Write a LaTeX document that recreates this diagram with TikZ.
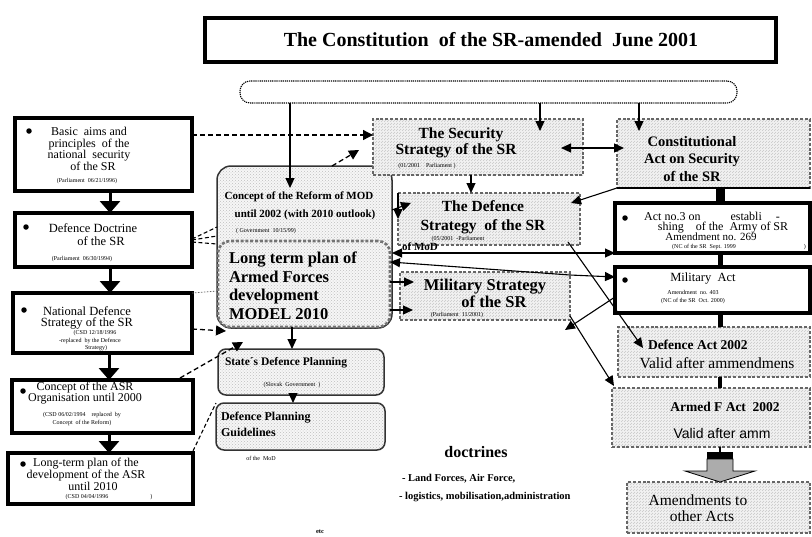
\documentclass[tikz,border=0pt]{standalone}
\usepackage{fontspec}
\setmainfont{Liberation Serif}
\newfontfamily\arialfont{Liberation Sans}
\usetikzlibrary{arrows.meta,patterns,calc}
\newcommand\fsz[2]{\fontsize{#1}{#2}\selectfont}
% box given by its corners: name, style, x1, y1, x2, y2
\newcommand\cbox[6]{\node[#2, minimum width={#5-#3}, minimum height={#6-#4}] (#1) at ({(#3+#5)/2},{(#4+#6)/2}) {};}

\begin{document}
\begin{tikzpicture}[x=1pt,y=-1pt,
  every node/.style={inner sep=0pt, outer sep=0pt},
  titlebox/.style={draw, line width=4pt, rectangle},
  topbox/.style={draw, line width=1.1pt, dash pattern=on 1.2pt off 0.9pt, rounded corners=10pt},
  lawbox/.style={draw, line width=4.5pt, fill=white},
  hatchbox/.style={draw=black!60, line width=2.6pt, dash pattern=on 3pt off 1.8pt,
    preaction={fill=gray!10}, pattern=north east lines, pattern color=black!22},
  dotbox/.style={draw=black!80, line width=1.5pt, rounded corners=#1,
    preaction={fill=gray!7}, pattern=crosshatch dots, pattern color=black!25},
  modelbox/.style={draw=black!55, line width=2.6pt, dash pattern=on 3pt off 1.8pt, rounded corners=12pt,
    preaction={fill=gray!7}, pattern=crosshatch dots, pattern color=black!25},
  bullet/.style={circle, fill=black, minimum size=5.5pt},
  txt/.style={font=\fsz{#1}{#1}, align=center},
  btxt/.style={font=\fsz{#1}{#1}\bfseries, align=center},
  small/.style={font=\fsz{6}{7.5}, align=center},
  tarr/.style={line width=1.1pt, -{Triangle[length=10pt,width=9pt]}},
  tarr2/.style={line width=1.1pt, {Triangle[length=10pt,width=9pt]}-{Triangle[length=10pt,width=9pt]}},
  darr/.style={line width=1.3pt, dash pattern=on 5pt off 3pt, -{Triangle[length=10pt,width=10pt]}},
  dline/.style={line width=1.1pt, dash pattern=on 4pt off 2.5pt},
  bigarr/.style={line width=3pt, -{Triangle[length=12pt,width=20pt]}},
  spinebar/.style={line width=#1}
]
\useasboundingbox (0,0) rectangle (812,536);

% ---------- headline and the common bracket below it ----------
\cbox{title}{titlebox}{205}{18}{776}{62}
\node[btxt=20] (titlet) at (491,40) {The Constitution\ \ of the SR-amended\ \ June 2001};
\cbox{cons2}{topbox}{240}{81}{737}{103}

% ---------- left column ----------
\cbox{b1}{lawbox}{15}{118}{192}{191}
\cbox{b2}{lawbox}{15}{213}{192}{267}
\cbox{b3}{lawbox}{13}{293}{192}{353}
\cbox{b4}{lawbox}{12}{380}{193}{433}
\cbox{b5}{lawbox}{8}{453}{193}{504}

\node[bullet] (b1d) at (29,131) {};
\node[txt=12, font=\fsz{12}{11.5}] (b1t) at (89,149) {Basic\ \ aims and\\principles\ \ of the\\national\ \ security\\\hspace*{8pt}of the SR};
\node[small] (b1s) at (87,181) {(Parliament\ \ 06/21/1996)};

\node[bullet] (b2d) at (26,227) {};
\node[txt=12.5, font=\fsz{12.5}{13}] (b2t) at (93,235) {Defence\ Doctrine\\\hspace*{16pt}of the SR};
\node[small] (b2s) at (82,259) {(Parliament\ \ 06/30/1994)};

\node[bullet] (b3d) at (24,310) {};
\node[txt=12.5, font=\fsz{12.5}{11}] (b3t) at (87,318) {National Defence\\Strategy of the SR};
\node[small] (b3s) at (90,341) {\hspace*{10pt}(CSD 12/18/1996\\-replaced\ \ by the Defence\\\hspace*{12pt}Strategy)};

\node[bullet] (b4d) at (23,391) {};
\node[txt=12, font=\fsz{12}{11}] (b4t) at (85,393) {Concept of the ASR\\Organisation until 2000};
\node[small] (b4s) at (82,419) {(CSD 06/02/1994\quad replaced\ \ by\\Concept\ \ of the Reform)};

\node[bullet] (b5d) at (23,464) {};
\node[txt=12, font=\fsz{12}{10}] (b5t) at (86,474) {Long-term plan of the\\development of the ASR\\\hspace*{14pt}until 2010};
\node[small] (b5s) at (109,497) {(CSD 04/04/1996\hspace{42pt})};

\draw[bigarr] (b1.south -| 110,0) -- (b2.north -| 110,0);
\draw[bigarr] (b2.south -| 110,0) -- (b3.north -| 110,0);
\draw[bigarr] (b3.south -| 109,0) -- (b4.north -| 109,0);
\draw[bigarr] (b4.south -| 109,0) -- (b5.north -| 109,0);

% ---------- ministry column ----------
\cbox{conc}{dotbox=14pt}{217}{166}{392}{328}
\node[btxt=11] (conct1) at (299,197) {Concept of the Reform of MOD};
\node[btxt=11] (conct2) at (305,215) {until 2002 (with 2010 outlook)};
\node[small] (conct3) at (266,231) {( Government\ \ 10/15/99)};
\cbox{model}{modelbox}{218}{241}{390}{327}
\node[btxt=16.5, font=\fsz{16.5}{18.5}\bfseries, align=left, anchor=west] (modelt) at (229,286) {Long term plan of\\Armed\ Forces\\development\\MODEL 2010};

\cbox{state}{dotbox=8pt}{218}{349}{384}{395}
\node[btxt=11.5, anchor=west] (statet) at (225,363) {State´s Defence Planning};
\node[small] (states) at (292,385) {(Slovak\ \ Government\ \ )};
\cbox{guide}{dotbox=8pt}{216}{403}{385}{450}
\node[btxt=12, font=\fsz{12}{16}\bfseries, anchor=west, align=left] (guidet) at (221,424) {Defence Planning\\Guidelines};
\node[small] (guides) at (261,458) {of the\ \ MoD};

% ---------- strategies ----------
\cbox{sec}{hatchbox}{373}{119}{583}{175}
\node[btxt=15.5, font=\fsz{15.5}{16.5}\bfseries] (sect) at (456,143) {\hspace*{10pt}The Security\\Strategy of the SR};
\node[small] (secs) at (427,166) {(01/2001\quad Parliament )};
\cbox{def}{hatchbox}{398}{193}{580}{245}
\node[btxt=15.5, font=\fsz{15.5}{19}\bfseries] (deft) at (483,217) {The Defence\\Strategy\ \ of the SR};
\node[small] (defs) at (458,239) {(05/2001\ \ -Parliament};
\cbox{mil}{hatchbox}{400}{272}{570}{320}
\node[btxt=16.5, font=\fsz{16.5}{17}\bfseries] (milt) at (485,293) {Military Strategy\\\hspace*{18pt}of the SR};
\node[small] (mils) at (457,315) {(Parliament\ \ 11/2001)};
\node[btxt=11] (ofmod) at (420,247) {of MoD};

% ---------- acts ----------
\cbox{cact}{hatchbox}{617}{119}{810}{188}
\draw[line width=2.5pt] (cact.south west) -- (cact.south east);
\node[btxt=14.5, font=\fsz{14.5}{17.5}\bfseries] (cactt) at (692,159) {Constitutional\\Act on Security\\of the SR};

\cbox{act3}{lawbox}{615}{203}{810}{253}
\node[bullet] (act3d) at (625,218) {};
\node[txt=12] (act3a) at (712,216) {Act no.3 on\hspace{30pt}establi\hspace{14pt}-};
\node[txt=12] (act3b) at (723,228) {shing\hspace{12pt}of the\ \ Army of SR};
\node[txt=11] (act3c) at (711,237) {Amendment no. 269};
\node[small] (act3s) at (739,247) {(NC of the SR\ \ Sept. 1999\hspace{68pt})};

\cbox{milact}{lawbox}{615}{267}{810}{313}
\node[bullet] (milactd) at (625,280) {};
\node[txt=12.5] (milacta) at (703,279) {Military\ \ Act};
\node[small] (milacts) at (693,297) {Amendment\ \ no. 403\\(NC of the SR\ \ Oct. 2000)};

\cbox{defact}{hatchbox}{618}{327}{810}{377}
\node[btxt=13.5, anchor=west] (defacta) at (648,345) {Defence Act 2002};
\node[txt=15.5] (defactb) at (717,363) {Valid after ammendmens};

\cbox{armed}{hatchbox}{612}{388}{810}{447}
\node[btxt=13.5] (armeda) at (725,407) {Armed F Act\ \ 2002};
\node[font=\arialfont\fsz{14}{14}] (armedb) at (722,433) {Valid after amm};

\cbox{amend}{hatchbox}{627}{482}{810}{533}
\node[txt=15.5, font=\fsz{15.5}{15.5}] (amendt) at (698,508) {Amendments to\\\hspace*{8pt}other Acts};

% spine of the act column
\coordinate (spine) at (720,0);
\draw[spinebar=9pt] (cact.south -| spine) -- (act3.north -| spine);
\draw[spinebar=5pt] (act3.south -| spine) -- (milact.north -| spine);
\draw[spinebar=5pt] (milact.south -| spine) -- (defact.north -| spine);
\draw[spinebar=3.5pt] (defact.south -| spine) -- (armed.north -| spine);

% block arrow down to the amendments
\coordinate (ba) at (armed.south -| spine);
\coordinate (bb) at (amend.north -| spine);
\draw[line width=2pt] (ba) -- ++(0,6);
\fill[black] ($(ba)+(-13,5)$) rectangle ($(ba)+(13,12)$);
\draw[fill=gray!65, line width=0.8pt, line join=miter]
  ($(ba)+(-13,12)$) -- ($(ba)+(-13,24)$) -- ($(ba)+(-35,24)$) -- (bb)
  -- ($(ba)+(35,24)$) -- ($(ba)+(13,24)$) -- ($(ba)+(13,12)$) -- cycle;

% ---------- doctrines ----------
\node[btxt=16] (doct) at (476,452) {doctrines};
\node[btxt=10.5, anchor=west] (docl1) at (402,479) {- Land Forces, Air Force,};
\node[btxt=10.5, anchor=west] (docl2) at (399,497) {- logistics, mobilisation,administration};
\node[btxt=6.5] (etc) at (320,532) {etc};

% ---------- connectors from the constitution ----------
\coordinate (concIn) at (290,188);
\coordinate (secIn) at (540,131);
\coordinate (cactIn) at (639,131);
\draw[tarr] (cons2.south -| concIn) -- (concIn);
\draw[tarr] (cons2.south -| secIn) -- (secIn);
\draw[tarr] (cons2.south -| cactIn) -- (cactIn);

\coordinate (secR) at (561,148);
\coordinate (cactL) at (624,148);
\draw[tarr2] (secR) -- (cactL);
\coordinate (defTR) at (571,203);
\draw[tarr] (cact.south west) -- (defTR);
\coordinate (defTop) at (471,193);
\draw[tarr] (sec.south -| defTop) -- (defTop);

% ---------- between ministry and strategies ----------
\coordinate (secLow) at (359,150);
\draw[darr] (conc.north -| 332,0) -- (secLow);
\coordinate (defL) at (411,203);
\draw[tarr] (conc.east |- 0,210) -- (defL);
\draw[tarr] (def.north west) -- (def.west);
\draw[tarr2] (conc.east |- 0,253) -- (act3.west |- 0,253);
\coordinate (bend) at (570,275);
\draw[tarr2] (model.east |- 0,262) -- (bend) -- (milact.west |- 0,277);
\coordinate (milL1) at (414,282);
\coordinate (milL2) at (413,310);
\draw[tarr] (model.east |- 0,282) -- (milL1);
\draw[tarr] (model.east |- 0,310) -- (milL2);

% ---------- crossing links to the acts ----------
\coordinate (defOut) at (568,242);
\coordinate (defactIn) at (643,348);
\draw[tarr] (defOut) -- (defactIn);
\coordinate (milCorner) at (565,330);
\draw[tarr] (milact.west |- 0,297) -- (milCorner);
\coordinate (milOut) at (570,316);
\coordinate (armedIn) at (614,386);
\draw[tarr] (milOut) -- (armedIn);

% ---------- links from the left column ----------
\draw[darr] (b1.east |- 0,135) -- (sec.west |- 0,135);
\draw[dline] (b2.east |- 0,239) -- (conc.west |- 0,227);
\draw[dline] (b2.east |- 0,240) -- (conc.west |- 0,236);
\draw[dline] (b2.east |- 0,242) -- (conc.west |- 0,244);
\draw[black!60, line width=0.8pt, dash pattern=on 1.5pt off 1.5pt] (b3.north east) -- (model.west |- 0,291);
\coordinate (modelBL) at (226,331);
\draw[darr] (b3.east |- 0,329) -- (modelBL);
\coordinate (b4out) at (180,378);
\coordinate (modelB) at (243,342);
\draw[darr] (b4out) -- (modelB);
\draw[dline] (b5.east |- 0,451) -- (guide.north west);

% ---------- inside ministry column ----------
\draw[tarr] (model.south -| 292,0) -- (state.north -| 292,0);
\draw[tarr] (state.south -| 293,0) -- (guide.north -| 293,0);
\end{tikzpicture}
\end{document}
